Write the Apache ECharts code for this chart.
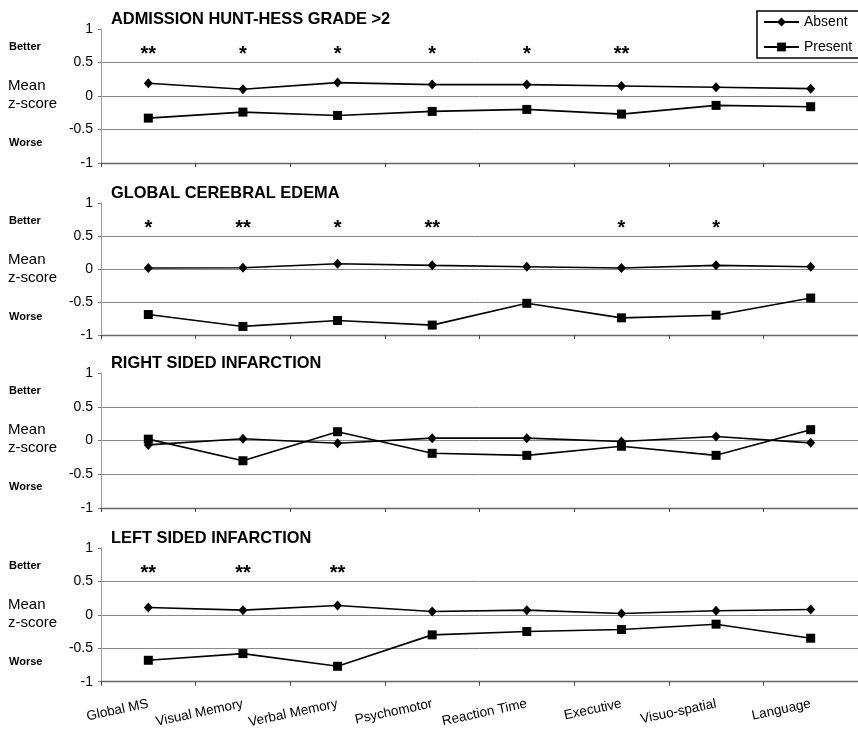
<!DOCTYPE html>
<html>
<head>
<meta charset="utf-8">
<script src="https://cdn.jsdelivr.net/npm/echarts@6/dist/echarts.min.js"></script>
<style>html,body{margin:0;padding:0;background:#fff;}#c{width:858px;height:730px;}</style>
</head>
<body>
<div id="c"></div>
<script>
const categories = ['Global MS','Visual Memory','Verbal Memory','Psychomotor','Reaction Time','Executive','Visuo-spatial','Language'];
const panelTitles = ['ADMISSION HUNT-HESS GRADE >2','GLOBAL CEREBRAL EDEMA','RIGHT SIDED INFARCTION','LEFT SIDED INFARCTION'];
const seriesNames = ['Absent','Present'];
const yMin = -1, yMax = 1, yStep = 0.5;

const absentHH   = [0.19, 0.10, 0.20, 0.17, 0.17, 0.15, 0.13, 0.11];
const presentHH  = [-0.33, -0.24, -0.29, -0.23, -0.20, -0.27, -0.14, -0.16];
const starsHH    = ['**','*','*','*','*','**','',''];

const absentGCE  = [0.015, 0.02, 0.08, 0.055, 0.035, 0.015, 0.055, 0.035];
const presentGCE = [-0.69, -0.87, -0.78, -0.85, -0.52, -0.74, -0.70, -0.44];
const starsGCE   = ['*','**','*','**','','*','*',''];

const absentRSI  = [-0.065, 0.025, -0.04, 0.035, 0.035, -0.015, 0.06, -0.035];
const presentRSI = [0.02, -0.30, 0.13, -0.19, -0.22, -0.085, -0.22, 0.16];
const starsRSI   = ['','','','','','','',''];

const absentLSI  = [0.11, 0.07, 0.14, 0.05, 0.07, 0.02, 0.06, 0.08];
const presentLSI = [-0.68, -0.58, -0.77, -0.30, -0.25, -0.22, -0.14, -0.35];
const starsLSI   = ['**','**','**','','','','',''];

const absentAll = [absentHH, absentGCE, absentRSI, absentLSI];
const presentAll = [presentHH, presentGCE, presentRSI, presentLSI];
const starsAll = [starsHH, starsGCE, starsRSI, starsLSI];

// layout
const FONT = '"Liberation Sans", Arial, sans-serif';
const panelTop = [29, 203, 373, 548];
const panelH = [134, 132, 135, 135];
const STAR_LEVEL = 0.62;

const grids = [], xAxes = [], yAxes = [], series = [], titles = [], graphics = [];
for (let p = 0; p < 4; p++) {
  grids.push({left: 101, right: -6, top: panelTop[p], height: panelH[p], containLabel: false});
  xAxes.push({
    type: 'category', gridIndex: p, data: categories, boundaryGap: true,
    axisLine: {show: true, onZero: false, lineStyle: {color: '#666', width: 1.3}},
    axisTick: {show: true, length: 4, lineStyle: {color: '#444'}},
    axisLabel: {show: p === 3, rotate: 12, fontSize: 13.5, color: '#000', fontFamily: FONT, margin: 22, interval: 0},
    splitLine: {show: false}
  });
  yAxes.push({
    type: 'value', gridIndex: p, min: yMin, max: yMax, interval: yStep,
    axisLine: {show: true, lineStyle: {color: '#999', width: 1}},
    axisTick: {show: true, length: 3, lineStyle: {color: '#777'}},
    axisLabel: {fontSize: 14, color: '#000', fontFamily: FONT, margin: 8},
    splitLine: {show: true, lineStyle: {color: ['#888', '#888', '#888', '#888', 'rgba(0,0,0,0)'], width: 1}}
  });
  series.push({
    name: seriesNames[0], type: 'line', xAxisIndex: p, yAxisIndex: p,
    data: absentAll[p], symbol: 'diamond', symbolSize: [9, 10],
    lineStyle: {color: '#000', width: 1.6}, itemStyle: {color: '#000'}, z: 3
  });
  series.push({
    name: seriesNames[1], type: 'line', xAxisIndex: p, yAxisIndex: p,
    data: presentAll[p], symbol: 'rect', symbolSize: 9,
    lineStyle: {color: '#000', width: 1.6}, itemStyle: {color: '#000'}, z: 3
  });
  const starData = [];
  starsAll[p].forEach((s, i) => { if (s) starData.push({value: [i, STAR_LEVEL], label: {formatter: s}}); });
  series.push({
    name: 'stars' + p, type: 'scatter', xAxisIndex: p, yAxisIndex: p,
    data: starData, symbolSize: 0, itemStyle: {color: '#000', opacity: 1},
    label: {show: true, position: 'inside', fontSize: 20, fontWeight: 'bold', color: '#000', opacity: 1, textBorderWidth: 0, fontFamily: FONT},
    silent: true, z: 5
  });
  titles.push({
    text: panelTitles[p], left: 111, top: panelTop[p] - 18, padding: 0,
    textStyle: {fontSize: 16.4, fontWeight: 'bold', color: '#000', fontFamily: FONT}
  });
  const t = panelTop[p];
  graphics.push({type: 'text', left: 9, top: t + 12, style: {text: 'Better', fill: '#000', font: 'bold 11px ' + FONT}});
  graphics.push({type: 'text', left: 8, top: t + 49, style: {text: 'Mean', fill: '#000', font: '15px ' + FONT}});
  graphics.push({type: 'text', left: 8, top: t + 67, style: {text: 'z-score', fill: '#000', font: '15px ' + FONT}});
  graphics.push({type: 'text', left: 9, top: t + 108, style: {text: 'Worse', fill: '#000', font: 'bold 11px ' + FONT}});
}

const chart = echarts.init(document.getElementById('c'), null, {renderer: 'canvas'});
chart.setOption({
  animation: false,
  backgroundColor: '#fff',
  title: titles,
  grid: grids,
  xAxis: xAxes,
  yAxis: yAxes,
  series: series,
  graphic: graphics,
  legend: {
    data: seriesNames, orient: 'vertical', left: 757, top: 11,
    padding: [4, 7, 4, 6], itemGap: 11, itemWidth: 35, itemHeight: 11,
    borderColor: '#000', borderWidth: 1.5, backgroundColor: '#fff',
    textStyle: {fontSize: 14, color: '#000', fontFamily: FONT},
    selectedMode: false
  }
});
</script>
</body>
</html>
